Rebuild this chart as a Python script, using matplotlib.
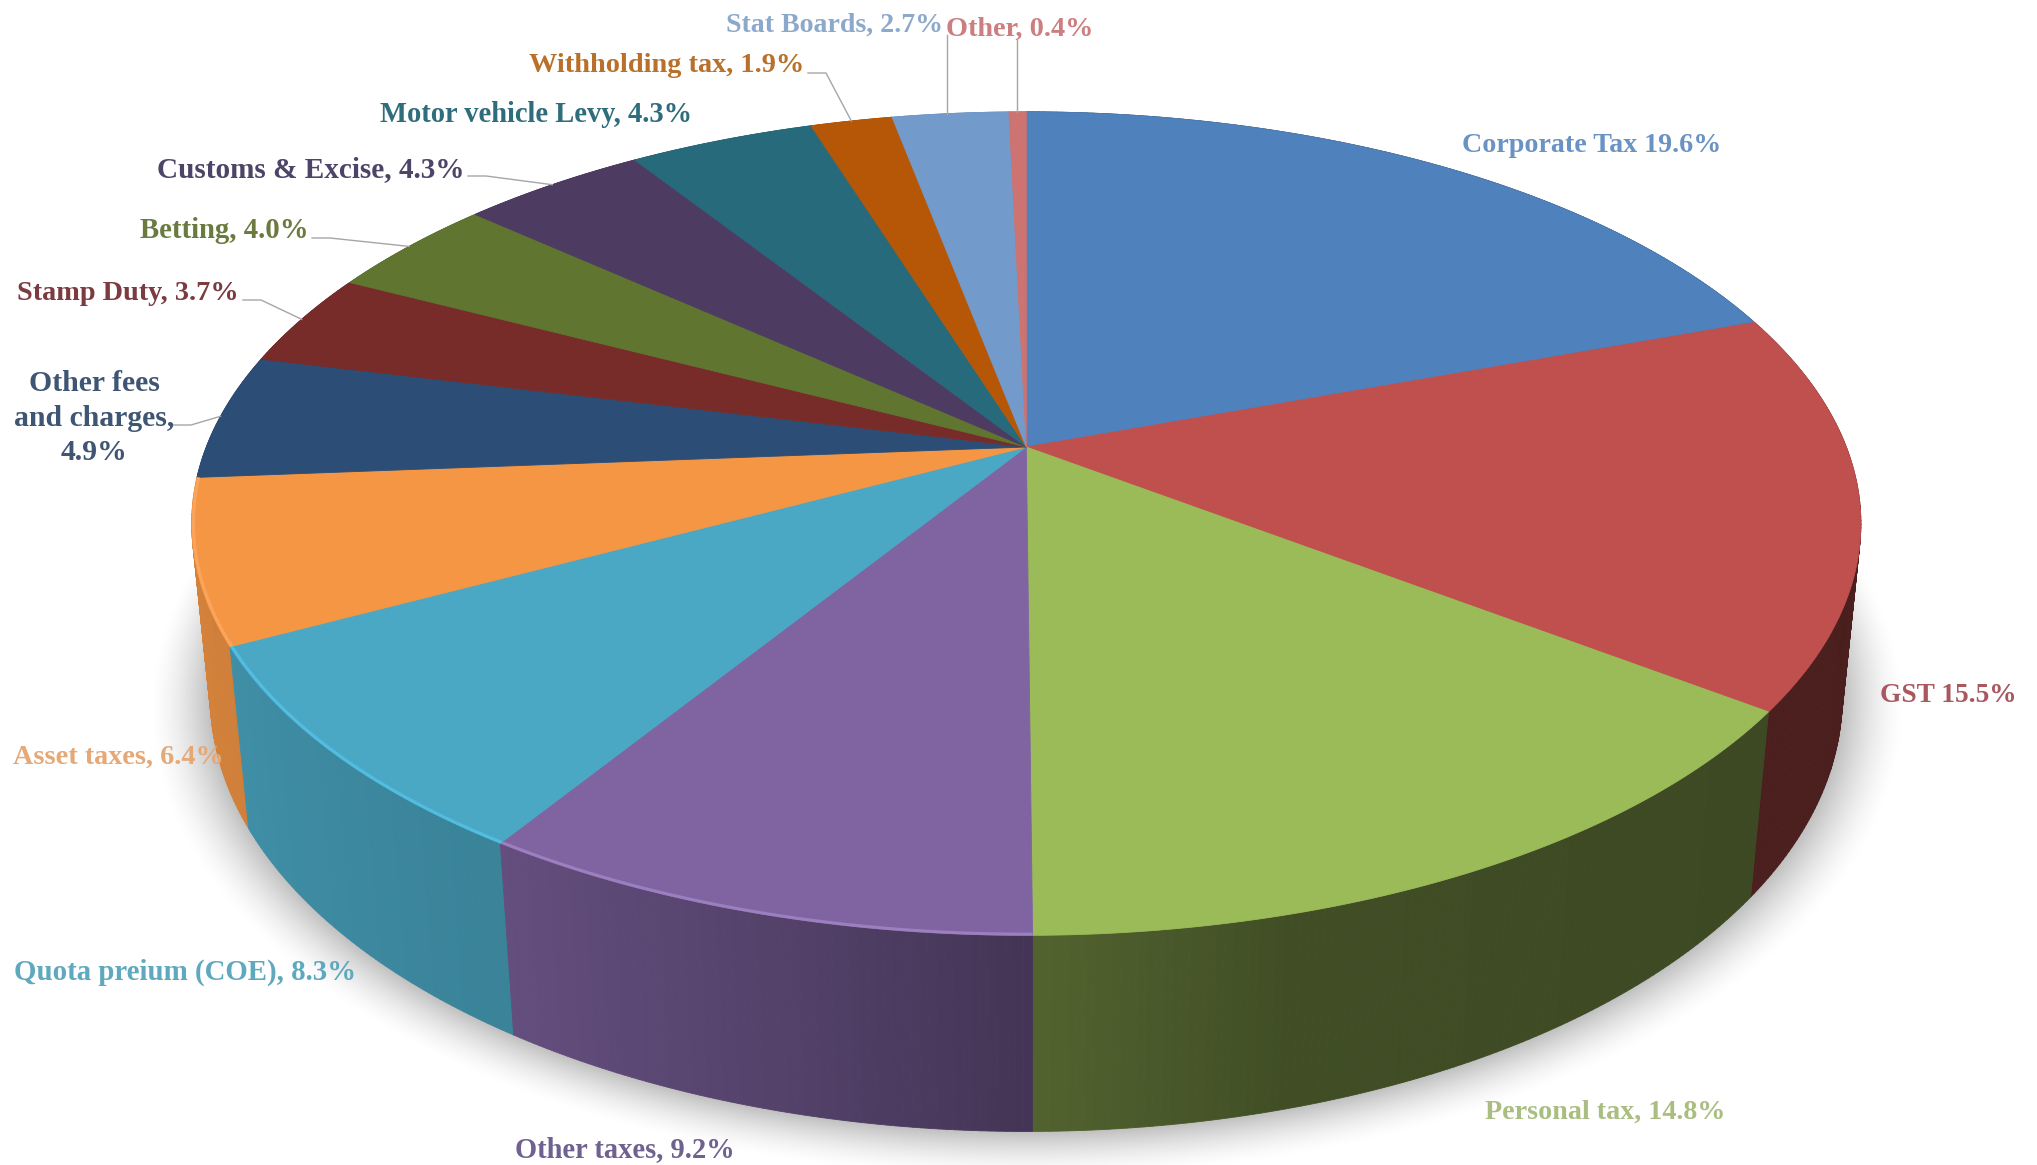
import numpy as np
import matplotlib
matplotlib.use("Agg")
import matplotlib.pyplot as plt
from matplotlib.collections import PolyCollection

categories = ["Corporate Tax", "GST", "Personal tax", "Other taxes", "Quota preium (COE)",
              "Asset taxes", "Other fees and charges", "Stamp Duty", "Betting",
              "Customs & Excise", "Motor vehicle Levy", "Withholding tax", "Stat Boards", "Other"]
shares = [19.6, 15.5, 14.8, 9.2, 8.3, 6.4, 4.9, 3.7, 4.0, 4.3, 4.3, 1.9, 2.7, 0.4]
colors = ["#4F81BD", "#C0504D", "#9BBB59", "#8064A2", "#4AA8C4", "#F59644", "#2C4D75",
          "#772C2A", "#5F7530", "#4D3B62", "#276A7C", "#B65708", "#729ACA", "#CD7371"]
text_colors = ["#6A93C4", "#A9585F", "#A9BE80", "#6F6290", "#5FA9BE", "#E5A877", "#3E5674",
               "#7B3B40", "#6B7B3F", "#4E4467", "#2F6C7C", "#B8702A", "#8CA9CC", "#CC7F80"]
labels = ["Corporate Tax 19.6%", "GST 15.5%", "Personal tax, 14.8%", "Other taxes, 9.2%",
          "Quota preium (COE), 8.3%", "Asset taxes, 6.4%", "Other fees\nand charges,\n4.9%",
          "Stamp Duty, 3.7%", "Betting, 4.0%", "Customs & Excise, 4.3%",
          "Motor vehicle Levy, 4.3%", "Withholding tax, 1.9%", "Stat Boards, 2.7%", "Other, 0.4%"]

# label centres and widths, in pixels of the 2037x1165 picture
label_x = [1592, 1948, 1605, 625, 185, 118, 94, 128, 224, 311, 536, 667, 834, 1020]
label_y = [145, 695, 1112, 1150, 972, 757, 418, 293, 231, 170, 114, 66, 25, 29]
label_w = [259, 136, 240, 220, 343, 210, 160, 222, 168, 308, 312, 275, 217, 147]

# slices with a leader line: where it leaves the label
leaders = {6: (173, 425), 7: (243, 300), 8: (312, 238), 9: (468, 176), 11: (808, 73), 12: (947, 35), 13: (1017, 40)}

W, H = 2037, 1165
cx, cy = 1026.3, 447
A, B, D = 820, 397.5, 174.7   # projection of the disc
k, m = 0.186, 0.022           # perspective


def project(theta, z=0.0, r=1.0):
    # theta runs clockwise from the top, z=1 is the bottom face
    u = r * np.sin(theta)
    v = r * np.cos(theta)
    w = 1 + k * v + m * z
    return cx + A * u / w, cy - (B * v - D * z) / w


def side_shade(deg):
    return np.interp(deg, [90, 126, 150, 165, 180, 195, 213, 243, 270],
                     [0.38, 0.39, 0.40, 0.42, 0.53, 0.66, 0.78, 0.85, 0.89])


fig = plt.figure(figsize=(W / 100, H / 100), dpi=100)
ax = fig.add_axes([0, 0, 1, 1])

# soft shadow under the pie
yy, xx = np.mgrid[0:H, 0:W]
X = xx - cx
Y = cy - yy
w0 = 1 + m
v = (Y * w0 + D) / (B - k * Y)
u = X * (w0 + k * v) / A
rho = np.sqrt(u ** 2 + v ** 2)
shadow = np.zeros((H, W, 4))
shadow[..., 3] = 0.25 * np.clip((1.075 - rho) / 0.075, 0, 1) ** 1.6
ax.imshow(shadow, extent=(0, W, H, 0), aspect="auto", zorder=1)

edges = np.cumsum([0] + shares) / 100 * 2 * np.pi

# side wall, split in thin strips for the shading
strips, strip_colors, strip_depth = [], [], []
for i, col in enumerate(colors):
    rgb = np.array(matplotlib.colors.to_rgb(col))
    n = max(2, int(np.degrees(edges[i + 1] - edges[i]) * 2))
    t = np.linspace(edges[i], edges[i + 1], n + 1)
    for a, b in zip(t[:-1], t[1:]):
        x0, y0 = project(a)
        x1, y1 = project(b)
        x2, y2 = project(b, 1)
        x3, y3 = project(a, 1)
        strips.append([(x0, y0), (x1, y1), (x2, y2), (x3, y3)])
        strip_colors.append(rgb * side_shade(np.degrees((a + b) / 2)))
        strip_depth.append(np.cos((a + b) / 2))
order = np.argsort(strip_depth)[::-1]
ax.add_collection(PolyCollection([strips[j] for j in order], facecolors=[strip_colors[j] for j in order],
                                 edgecolors=[strip_colors[j] for j in order], linewidths=0.6, zorder=2))

# top face
for i, col in enumerate(colors):
    t = np.linspace(edges[i], edges[i + 1], 120)
    x, y = project(t)
    ax.fill(np.r_[cx, x], np.r_[cy, y], facecolor=col, edgecolor=col, linewidth=0.6, zorder=3)

# lighter rim on the lit part of the top face
for i, col in [(3, "#9C7FBE"), (4, "#52BDE0"), (5, "#FBA55C")]:
    t = np.linspace(edges[i], edges[i + 1], 80)
    x, y = project(t, 0, 0.998)
    ax.plot(x, y, color=col, lw=2.2, solid_capstyle="butt", zorder=4)

# leader lines
for i, (sx, sy) in leaders.items():
    ex, ey = project((edges[i] + edges[i + 1]) / 2)
    if i in (12, 13):
        ax.plot([sx, sx], [sy, ey], color="#A6A6A6", lw=1.0, zorder=5)
    else:
        ax.plot([sx, sx + 18, ex], [sy, sy, ey], color="#A6A6A6", lw=1.0, zorder=5)

ax.set_xlim(0, W)
ax.set_ylim(H, 0)
ax.axis("off")

renderer = fig.canvas.get_renderer()
for i, lab in enumerate(labels):
    txt = ax.text(label_x[i], label_y[i], lab, color=text_colors[i], family="Liberation Serif",
                  weight="bold", fontsize=20, ha="center", va="center", linespacing=1.35, zorder=6)
    size = 20 * label_w[i] / txt.get_window_extent(renderer).width
    txt.set_fontsize(size)

fig.savefig("out.png", dpi=100)
